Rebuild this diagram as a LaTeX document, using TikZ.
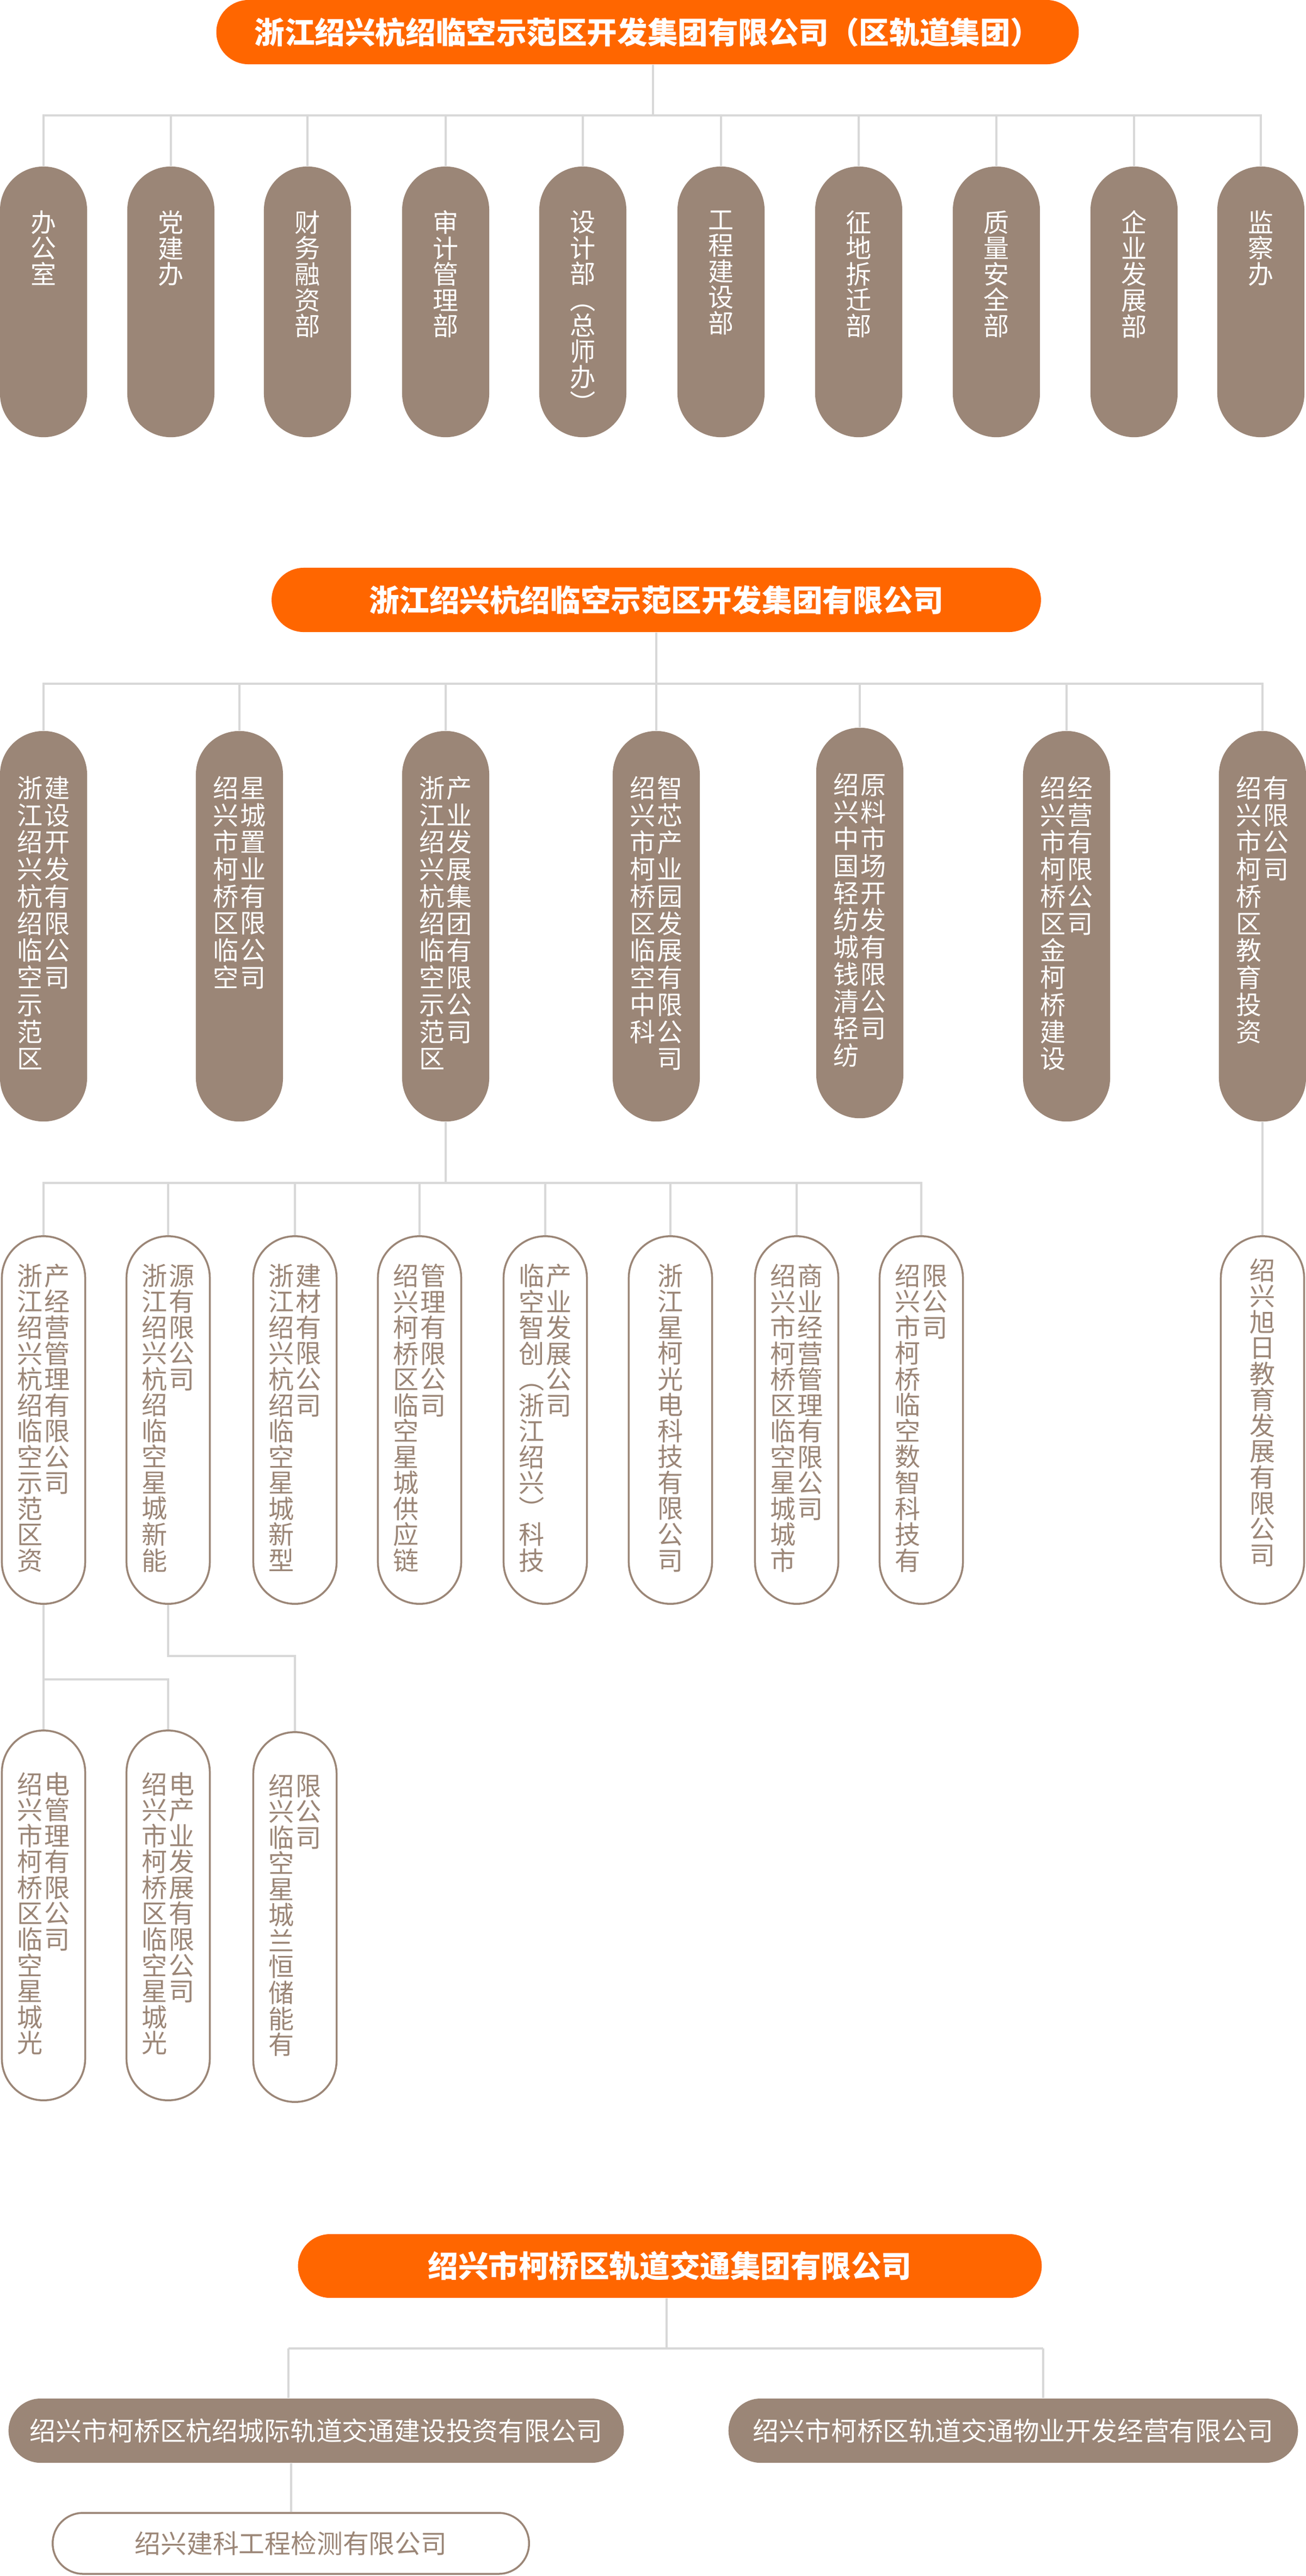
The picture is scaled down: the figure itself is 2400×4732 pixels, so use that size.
\documentclass[tikz,border=0pt]{standalone}
\usepackage{fontspec}
\setmainfont{Noto Sans CJK SC}
\usetikzlibrary{positioning}
\definecolor{orange6}{HTML}{FF6600}
\definecolor{brown6}{HTML}{9B8677}
\definecolor{line6}{HTML}{D8D8D8}
\newlength\colpitch
\setlength\colpitch{0.475cm}
% one character per line, for the upright columns
\def\vcolloop#1{\ifx\relax#1\else\hbox to 1em{\hss#1\hss}\expandafter\vcolloop\fi}
\newcommand\vcol[1]{\vtop{\baselineskip=\colpitch\lineskiplimit=-10cm\relax\expandafter\vcolloop#1\relax}}
\newcommand\vtwo[2]{\hbox{\vcol{#1}\kern0.02cm\vcol{#2}}}
\begin{document}
\begin{tikzpicture}
        [x=0.01cm, y=-0.01cm,
        head/.style={rounded corners=0.59cm, fill=orange6, text=white, minimum height=1.18cm, inner sep=0, font=\fontsize{15.8pt}{16pt}\selectfont\bfseries},
        dept/.style={rounded corners=0.8cm, fill=brown6, minimum width=1.6cm, inner sep=0},
        sub/.style={rounded corners=0.765cm, draw=brown6, line width=0.035cm, fill=white, minimum width=1.53cm, inner sep=0},
        wide/.style={rounded corners=0.59cm, minimum height=1.18cm, inner sep=0, font=\fontsize{13.6pt}{14pt}\selectfont},
        vtxt/.style={inner sep=0, font=\fontsize{13.4pt}{13.7pt}\selectfont},
        pitch/.code={\setlength\colpitch{#1}},
        conn/.style={draw=line6, line width=0.04cm}]
        \useasboundingbox (0,0) rectangle (2400,4732);

        % group of the rail company, its departments
        \node[head, minimum width=15.84cm] (h1) at (1190,59) {浙江绍兴杭绍临空示范区开发集团有限公司（区轨道集团）};
        \coordinate (j1) at (1200,212);
        \draw[conn] (h1.south -| j1) -- (j1);
        \foreach \x/\lbl [count=\i] in {80/办公室, 314/党建办, 565/财务融资部, 819/审计管理部, 1071/设计部︵总师办︶, 1325/工程建设部, 1578/征地拆迁部, 1831/质量安全部, 2084/企业发展部, 2317/监察办}{
            \node[dept, minimum height=4.97cm] (d\i) at (\x,554.5) {};
            \node[vtxt, text=white, below=0.81cm of d\i.north] (dt\i) {\vcol{\lbl}};
            \draw[conn] (d\i.north) |- (j1);
        }

        % development group and its companies
        \node[head, minimum width=14.13cm] (h2) at (1206,1102) {浙江绍兴杭绍临空示范区开发集团有限公司};
        \coordinate (j2) at (1206,1256);
        \draw[conn] (h2.south) -- (j2);
        \foreach \x/\y/\colA/\colB [count=\i] in {80/1701.5/浙江绍兴杭绍临空示范区/建设开发有限公司, 440/1701.5/绍兴市柯桥区临空/星城置业有限公司, 819/1701.5/浙江绍兴杭绍临空示范区/产业发展集团有限公司, 1206/1701.5/绍兴市柯桥区临空中科/智芯产业园发展有限公司, 1580/1695.5/绍兴中国轻纺城钱清轻纺/原料市场开发有限公司, 1960/1701.5/绍兴市柯桥区金柯桥建设/经营有限公司, 2320/1701.5/绍兴市柯桥区教育投资/有限公司}{
            \node[dept, minimum height=7.17cm] (c\i) at (\x,\y) {};
            \node[vtxt, text=white, pitch=0.497cm, below=0.83cm of c\i.north] (ct\i) {\vtwo{\colA}{\colB}};
            \draw[conn] (c\i.north) |- (j2);
        }

        % companies of the industry group
        \coordinate (j3) at (819,2173);
        \draw[conn] (c3.south) -- (j3);
        \foreach \x/\colA/\colB [count=\i] in {80/浙江绍兴杭绍临空示范区资/产经营管理有限公司, 309/浙江绍兴杭绍临空星城新能/源有限公司, 542/浙江绍兴杭绍临空星城新型/建材有限公司, 771/绍兴柯桥区临空星城供应链/管理有限公司, 1002/临空智创︵浙江绍兴︶科技/产业发展公司, 1464/绍兴市柯桥区临空星城城市/商业经营管理有限公司, 1693/绍兴市柯桥临空数智科技有/限公司}{
            \node[sub, minimum height=6.75cm] (s\i) at (\x,2608.5) {};
            \node[vtxt, text=brown6, below=0.52cm of s\i.north] (st\i) {\vtwo{\colA}{\colB}};
            \draw[conn] (s\i.north) |- (j3);
        }
        \node[sub, minimum height=6.75cm] (s8) at (1232,2608.5) {};
        \node[vtxt, text=brown6, below=0.52cm of s8.north] (st8) {\vcol{浙江星柯光电科技有限公司}};
        \draw[conn] (s8.north) |- (j3);

        \node[sub, minimum height=6.75cm] (e1) at (2320,2608.5) {};
        \node[vtxt, text=brown6, below=0.42cm of e1.north] (et1) {\vcol{绍兴旭日教育发展有限公司}};
        \draw[conn] (c7.south) -- (e1.north);

        % third level under the first two
        \foreach \x/\y/\colA/\colB [count=\i] in {80/3518.5/绍兴市柯桥区临空星城光/电管理有限公司, 309/3518.5/绍兴市柯桥区临空星城光/电产业发展有限公司, 542/3521.5/绍兴临空星城兰恒储能有/限公司}{
            \node[sub, minimum height=6.79cm] (g\i) at (\x,\y) {};
            \node[vtxt, text=brown6, below=0.78cm of g\i.north] (gt\i) {\vtwo{\colA}{\colB}};
        }
        \coordinate (k1) at (80,3085);
        \coordinate (k2) at (309,3042);
        \draw[conn] (s1.south) -- (g1.north);
        \draw[conn] (g2.north) |- (k1);
        \draw[conn] (s2.south) -- (k2) -| (g3.north);

        % traffic group
        \node[head, minimum width=13.66cm, minimum height=1.17cm] (h3) at (1231,4162.5) {绍兴市柯桥区轨道交通集团有限公司};
        \node[wide, fill=brown6, text=white, minimum width=11.3cm] (ra) at (581,4465) {绍兴市柯桥区杭绍城际轨道交通建设投资有限公司};
        \node[wide, fill=brown6, text=white, minimum width=10.46cm] (rb) at (1862,4465) {绍兴市柯桥区轨道交通物业开发经营有限公司};
        \node[wide, draw=brown6, line width=0.035cm, text=brown6, minimum width=8.75cm, minimum height=1.12cm, rounded corners=0.56cm] (rc) at (534.5,4672) {绍兴建科工程检测有限公司};
        \coordinate (j6) at (1225,4314);
        \coordinate (jA) at (530,4314);
        \coordinate (jB) at (1917,4314);
        \draw[conn] (h3.south -| j6) -- (j6);
        \draw[conn] (jA) -- (jB);
        \draw[conn] (jA) -- (jA |- ra.north);
        \draw[conn] (jB) -- (jB |- rb.north);
        \draw[conn] (rc.north |- ra.south) -- (rc.north);
    \end{tikzpicture}
\end{document}
